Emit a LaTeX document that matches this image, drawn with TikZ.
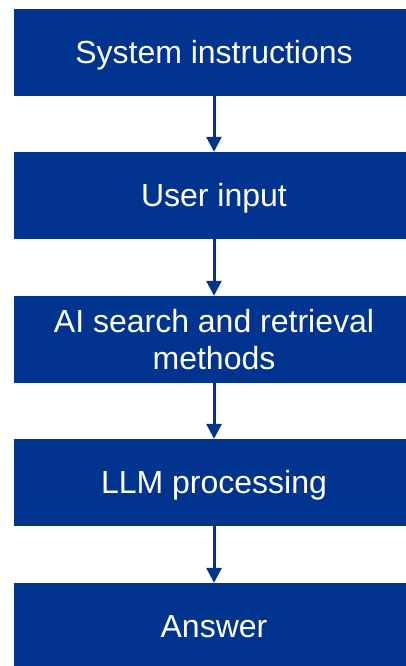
\documentclass[tikz,border=0pt]{standalone}
\usepackage{fontspec}
\setmainfont{Liberation Sans}
\usetikzlibrary{arrows.meta}
\definecolor{flowblue}{RGB}{0,52,142}
\tikzset{
  stepbox/.style={fill=flowblue, draw=none, text=white, inner sep=0pt,
    minimum width=400pt, minimum height=87pt, align=center,
    font=\fontsize{32}{36.6}\selectfont},
  oneline/.style={text height=22.9pt, text depth=0pt},
  flowarrow/.style={draw=flowblue, line width=3pt,
    -{Triangle[length=15pt,width=15pt]}}
}
\begin{document}
\begin{tikzpicture}[x=1pt,y=1pt]
  \useasboundingbox (0,0) rectangle (406,-666);
  \node[stepbox,oneline] (sys) at (214,-52.5) {System instructions};
  \node[stepbox,oneline] (user) at (214,-195.5) {User input};
  \node[stepbox] (search) at (214,-339.5) {AI search and retrieval\\methods};
  \node[stepbox,oneline] (llm) at (214,-482.5) {LLM processing};
  \node[stepbox,oneline] (ans) at (214,-626.5) {Answer};
  \draw[flowarrow] (sys) -- (user);
  \draw[flowarrow] (user) -- (search);
  \draw[flowarrow] (search) -- (llm);
  \draw[flowarrow] (llm) -- (ans);
\end{tikzpicture}
\end{document}
